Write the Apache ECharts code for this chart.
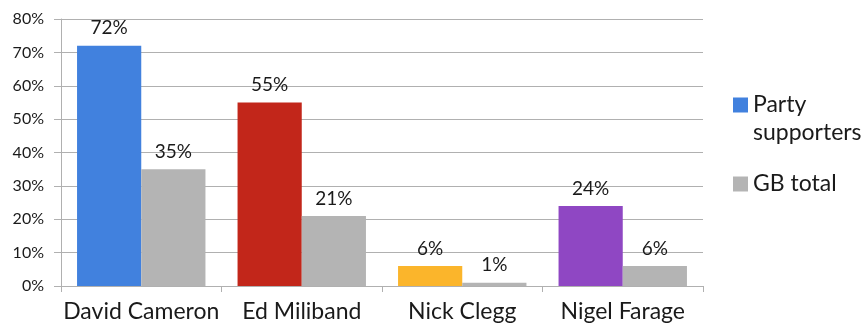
<!DOCTYPE html>
<html>
<head>
<meta charset="utf-8">
<script src="https://cdn.jsdelivr.net/npm/echarts@6/dist/echarts.min.js"></script>
<style>
  html, body { margin: 0; padding: 0; background: #fff; }
  #chart { width: 864px; height: 323px; }
</style>
</head>
<body>
<div id="chart"></div>
<script>
// Leader approval: share of own party supporters vs. all GB respondents (%)
const leaders = ['David Cameron', 'Ed Miliband', 'Nick Clegg', 'Nigel Farage'];
const partySupporters = [72, 55, 6, 24];
const gbTotal = [35, 21, 1, 6];
const partyColors = ['#4181de', '#c2261a', '#fbb52b', '#8f47c3'];
const yTicks = { min: 0, max: 80, interval: 10 };

const FONT = 'Lato';
const TEXT = '#1a1a1a';
const GRIDLINE = '#b0b0b0';

const chart = echarts.init(document.getElementById('chart'), null, { renderer: 'canvas' });

const valueLabel = {
  show: true,
  position: 'top',
  distance: 8,
  formatter: '{c}%',
  fontFamily: FONT,
  fontSize: 19,
  color: TEXT
};

const legendText = { fontFamily: FONT, fontSize: 23, color: TEXT, lineHeight: 28 };

chart.setOption({
  animation: false,
  backgroundColor: '#ffffff',
  grid: { left: 61, right: 161, top: 19, bottom: 36, containLabel: false },
  legend: [
    {
      data: ['Party supporters'],
      orient: 'vertical',
      left: 733,
      top: 63,
      padding: 0,
      icon: 'rect',
      itemWidth: 15,
      itemHeight: 15,
      // a blank first line keeps "Party" level with the swatch, "supporters" wraps below
      formatter: () => ' \nParty\nsupporters',
      textStyle: legendText
    },
    {
      data: ['GB total'],
      orient: 'vertical',
      left: 733,
      top: 170,
      padding: 0,
      icon: 'rect',
      itemWidth: 15,
      itemHeight: 15,
      textStyle: legendText
    }
  ],
  xAxis: {
    type: 'category',
    data: leaders,
    boundaryGap: true,
    axisLine: { lineStyle: { color: GRIDLINE, width: 1 } },
    axisTick: { show: true, alignWithLabel: false, length: 6, lineStyle: { color: GRIDLINE } },
    axisLabel: { fontFamily: FONT, fontSize: 23, color: TEXT, margin: 14, interval: 0 },
    splitLine: { show: false }
  },
  yAxis: {
    type: 'value',
    min: yTicks.min,
    max: yTicks.max,
    interval: yTicks.interval,
    axisLine: { show: true, lineStyle: { color: GRIDLINE, width: 1 } },
    axisTick: { show: true, length: 7, lineStyle: { color: GRIDLINE } },
    axisLabel: { formatter: '{value}%', fontFamily: FONT, fontSize: 16, color: TEXT, margin: 17 },
    splitLine: { show: true, lineStyle: { color: GRIDLINE, width: 1 } }
  },
  series: [
    {
      name: 'Party supporters',
      type: 'bar',
      barGap: '0%',
      barCategoryGap: '20%',
      itemStyle: { color: partyColors[0] },
      data: partySupporters.map((v, i) => ({ value: v, itemStyle: { color: partyColors[i] } })),
      label: valueLabel
    },
    {
      name: 'GB total',
      type: 'bar',
      barGap: '0%',
      barCategoryGap: '20%',
      itemStyle: { color: '#b4b4b4' },
      data: gbTotal,
      label: valueLabel
    }
  ]
});
</script>
</body>
</html>
